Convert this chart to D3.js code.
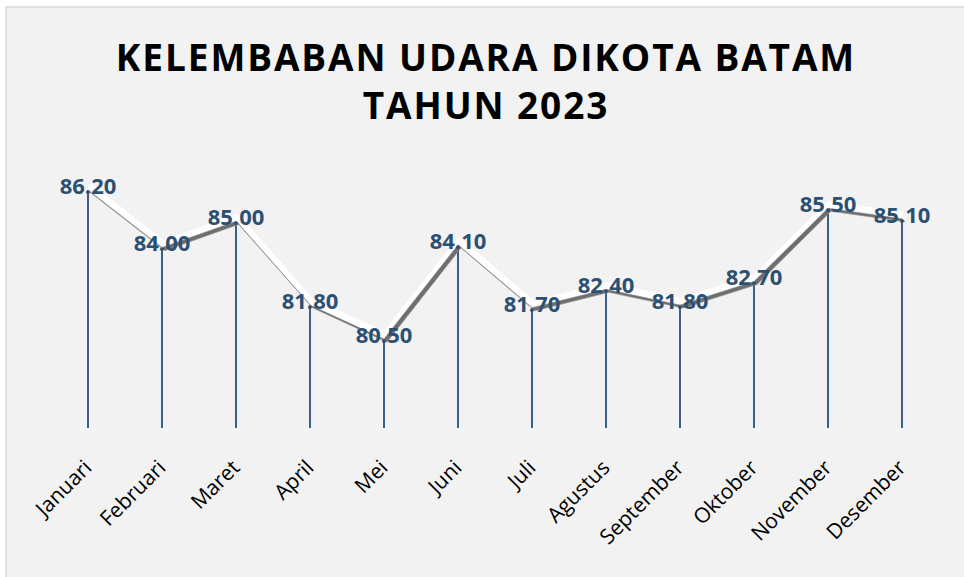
<!DOCTYPE html>
<html>
<head>
<meta charset="utf-8">
<script src="https://cdn.jsdelivr.net/npm/d3@7"></script>
<style>
  body { margin: 0; background: #fff; }
  svg { display: block; }
</style>
</head>
<body>
<svg width="964" height="577"></svg>
<script>
const months = ['Januari', 'Februari', 'Maret', 'April', 'Mei', 'Juni',
  'Juli', 'Agustus', 'September', 'Oktober', 'November', 'Desember']
const humidity = [86.2, 84.0, 85.0, 81.8, 80.5, 84.1, 81.7, 82.4, 81.8, 82.7, 85.5, 85.1]
const titleLines = ['KELEMBABAN UDARA DIKOTA BATAM', 'TAHUN 2023']

const svg = d3.select('svg')
const width = +svg.attr('width')
const height = +svg.attr('height')

// chart area
svg.append('rect')
  .attr('x', 6).attr('y', 7)
  .attr('width', width).attr('height', height)
  .attr('fill', '#f2f2f2')
  .attr('stroke', '#d9d9d9')
  .attr('stroke-width', 1.5)

svg.append('g')
  .selectAll('text')
  .data(titleLines)
  .join('text')
  .attr('x', 486)
  .attr('y', (d, i) => 71 + i * 48)
  .attr('text-anchor', 'middle')
  .attr('font-family', 'Open Sans, sans-serif')
  .attr('font-weight', 700)
  .attr('font-size', 37)
  .attr('letter-spacing', 1.9)
  .attr('fill', '#000')
  .text(d => d)

const x = d3.scalePoint().domain(months).range([88, 902])
const y = d3.scaleLinear().domain([77.1, 87]).range([428, 169])

const data = months.map((m, i) => ({ month: m, value: humidity[i] }))

// drop lines
svg.append('g')
  .selectAll('line')
  .data(data)
  .join('line')
  .attr('x1', d => x(d.month)).attr('x2', d => x(d.month))
  .attr('y1', d => y(d.value)).attr('y2', y.range()[0])
  .attr('stroke', '#3a6089')
  .attr('stroke-width', 2)

// 3d ribbon: white top face, gray front face
const topLine = d3.line()
  .x(d => x(d.month) + 1)
  .y(d => y(d.value) - 3.5)

svg.append('path')
  .attr('d', topLine(data))
  .attr('fill', 'none')
  .attr('stroke', '#ffffff')
  .attr('stroke-width', 7)
  .attr('stroke-linejoin', 'round')

const off = 3
svg.append('g')
  .selectAll('path')
  .data(d3.pairs(data))
  .join('path')
  .attr('d', ([a, b]) => {
    const x0 = x(a.month), y0 = y(a.value), x1 = x(b.month), y1 = y(b.value)
    return `M${x0},${y0}L${x1},${y1}L${x1 + off},${y1 + off}L${x0 + off},${y0 + off}Z`
  })
  .attr('fill', '#6e6e6e')
  .attr('stroke', '#8c8c8c')
  .attr('stroke-width', 0.6)

// value labels
svg.append('g')
  .selectAll('text')
  .data(data)
  .join('text')
  .attr('x', d => x(d.month))
  .attr('y', d => y(d.value) + 4)
  .attr('text-anchor', 'middle')
  .attr('font-family', 'Open Sans, sans-serif')
  .attr('font-weight', 700)
  .attr('font-size', 22)
  .attr('fill', '#2c5072')
  .text(d => d.value.toFixed(2))

// category labels
svg.append('g')
  .selectAll('text')
  .data(months)
  .join('text')
  .attr('transform', d => `translate(${x(d) + 5}, 469) rotate(-45)`)
  .attr('text-anchor', 'end')
  .attr('font-family', 'Open Sans, sans-serif')
  .attr('font-size', 21)
  .attr('fill', '#000')
  .text(d => d)
</script>
</body>
</html>
